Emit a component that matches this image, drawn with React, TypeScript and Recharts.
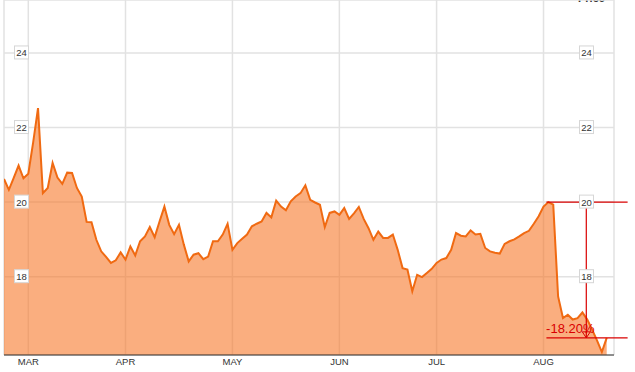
import React from "react";
import {
	ComposedChart,
	Area,
	XAxis,
	YAxis,
	CartesianGrid,
	ReferenceLine,
	ReferenceDot,
} from "recharts";

// daily closing prices, Feb 22 .. Aug 20 (one entry per trading day)
const prices = [
	20.62, 20.33, 20.65, 20.98, 20.64, 20.76, 21.6, 22.52, 20.24, 20.38,
	21.05, 20.66, 20.49, 20.79, 20.78, 20.38, 20.15, 19.47, 19.46, 18.99,
	18.68, 18.53, 18.37, 18.44, 18.65, 18.46, 18.81, 18.57, 18.95, 19.08,
	19.33, 19.06, 19.48, 19.88, 19.39, 19.14, 19.39, 18.86, 18.41, 18.59,
	18.63, 18.47, 18.54, 18.95, 18.95, 19.13, 19.42, 18.72, 18.9, 19.02,
	19.13, 19.35, 19.42, 19.48, 19.71, 19.59, 20.04, 19.88, 19.78, 20.02,
	20.15, 20.24, 20.45, 20.06, 19.99, 19.93, 19.33, 19.71, 19.75, 19.66,
	19.84, 19.55, 19.7, 19.87, 19.55, 19.3, 18.99, 19.21, 19.04, 19.04,
	19.13, 18.72, 18.23, 18.19, 17.61, 18.05, 17.99, 18.1, 18.21, 18.37,
	18.46, 18.5, 18.72, 19.17, 19.1, 19.08, 19.24, 19.13, 19.15, 18.77,
	18.68, 18.64, 18.62, 18.88, 18.95, 19.0, 19.08, 19.17, 19.23, 19.42,
	19.62, 19.88, 20.0, 19.93, 17.47, 16.89, 16.98, 16.85, 16.89, 17.04,
	16.85, 16.58, 16.29, 15.98, 16.36,
];

const monthLabels = ["MAR", "APR", "MAY", "JUN", "JUL", "AUG"];
const monthStarts = [5, 25, 47, 69, 89, 111];
const priceTicks = [18, 20, 22, 24];

const peakIndex = 112;

const FONT = "'Liberation Sans', Arial, sans-serif";
const RED = "#d90000";

const data = prices.map((price, i) => ({ i, price }));
const peak = prices[peakIndex];
const last = prices[prices.length - 1];
const change = `${((last / peak - 1) * 100).toFixed(2)}%`;

// boxed price label sitting on the gridline (plot edges: x 4 .. 614)
const PriceTick = (props: any) => {
	const { y, payload, side } = props;
	const cx = side === "left" ? 21.5 : 586.5;
	return (
		<g>
			<rect x={cx - 7} y={y - 7} width={14} height={13} fill="#fff" stroke="#d6d6d6" />
			<text
				x={cx}
				y={y}
				dy={3.5}
				textAnchor="middle"
				fontSize={9.5}
				fill="#333"
				fontFamily={FONT}
			>
				{payload.value}
			</text>
		</g>
	);
};

const DropMark = (props: any) => {
	const { cx, cy } = props;
	return (
		<g>
			<path
				d={`M${cx - 4},${cy - 6} L${cx + 4},${cy - 6} L${cx},${cy} Z`}
				fill="none"
				stroke={RED}
				strokeWidth={1}
			/>
			<text
				x={cx - 16}
				y={cy - 5}
				textAnchor="middle"
				fontSize={13}
				fill={RED}
				fontFamily={FONT}
			>
				{change}
			</text>
		</g>
	);
};

export default function App() {
	return (
		<div style={{ position: "absolute", left: 0, top: 0, width: 635, height: 372, background: "#fff" }}>
			<div
				style={{
					position: "absolute",
					left: 578,
					top: -7,
					fontSize: 11,
					fontWeight: "bold",
					color: "#333",
					fontFamily: FONT,
					lineHeight: "11px",
				}}
			>
				Price
			</div>
			<ComposedChart width={635} height={372} data={data} margin={{ top: 0, right: 21, bottom: 0, left: 4 }}>
				<CartesianGrid yAxisId="left" stroke="#e2e2e2" strokeWidth={1.5} />
				<Area
					yAxisId="left"
					dataKey="price"
					type="linear"
					stroke="#f06a12"
					strokeWidth={2}
					fill="#f7782a"
					fillOpacity={0.6}
					dot={false}
					activeDot={false}
					isAnimationActive={false}
				/>
				<ReferenceLine
					yAxisId="left"
					ifOverflow="visible"
					segment={[{ x: 111.6, y: peak }, { x: 128.3, y: peak }]}
					stroke={RED}
					strokeWidth={1.2}
				/>
				<ReferenceLine
					yAxisId="left"
					ifOverflow="visible"
					segment={[{ x: 111.6, y: last }, { x: 128.3, y: last }]}
					stroke={RED}
					strokeWidth={1.2}
				/>
				<ReferenceLine
					yAxisId="left"
					ifOverflow="visible"
					segment={[{ x: 119.8, y: peak }, { x: 119.8, y: last }]}
					stroke={RED}
					strokeWidth={1.2}
				/>
				<ReferenceDot yAxisId="left" x={119.8} y={last} ifOverflow="visible" shape={DropMark} />
				<XAxis
					dataKey="i"
					type="number"
					domain={[0, 125.5]}
					ticks={monthStarts}
					interval={0}
					allowDataOverflow
					tickFormatter={(v) => monthLabels[monthStarts.indexOf(v)]}
					tickLine={false}
					tickSize={0}
					tickMargin={3}
					stroke="#333"
					height={17}
					tick={{ fontSize: 9.5, fill: "#333", fontFamily: FONT }}
				/>
				<YAxis
					yAxisId="left"
					domain={[15.9, 25.42]}
					ticks={priceTicks}
					interval={0}
					allowDataOverflow
					mirror
					width={30}
					axisLine={false}
					tickLine={false}
					tick={(p: any) => <PriceTick {...p} side="left" />}
				/>
				<YAxis
					yAxisId="right"
					orientation="right"
					domain={[15.9, 25.42]}
					ticks={priceTicks}
					interval={0}
					allowDataOverflow
					mirror
					width={30}
					axisLine={false}
					tickLine={false}
					tick={(p: any) => <PriceTick {...p} side="right" />}
				/>
			</ComposedChart>
		</div>
	);
}
